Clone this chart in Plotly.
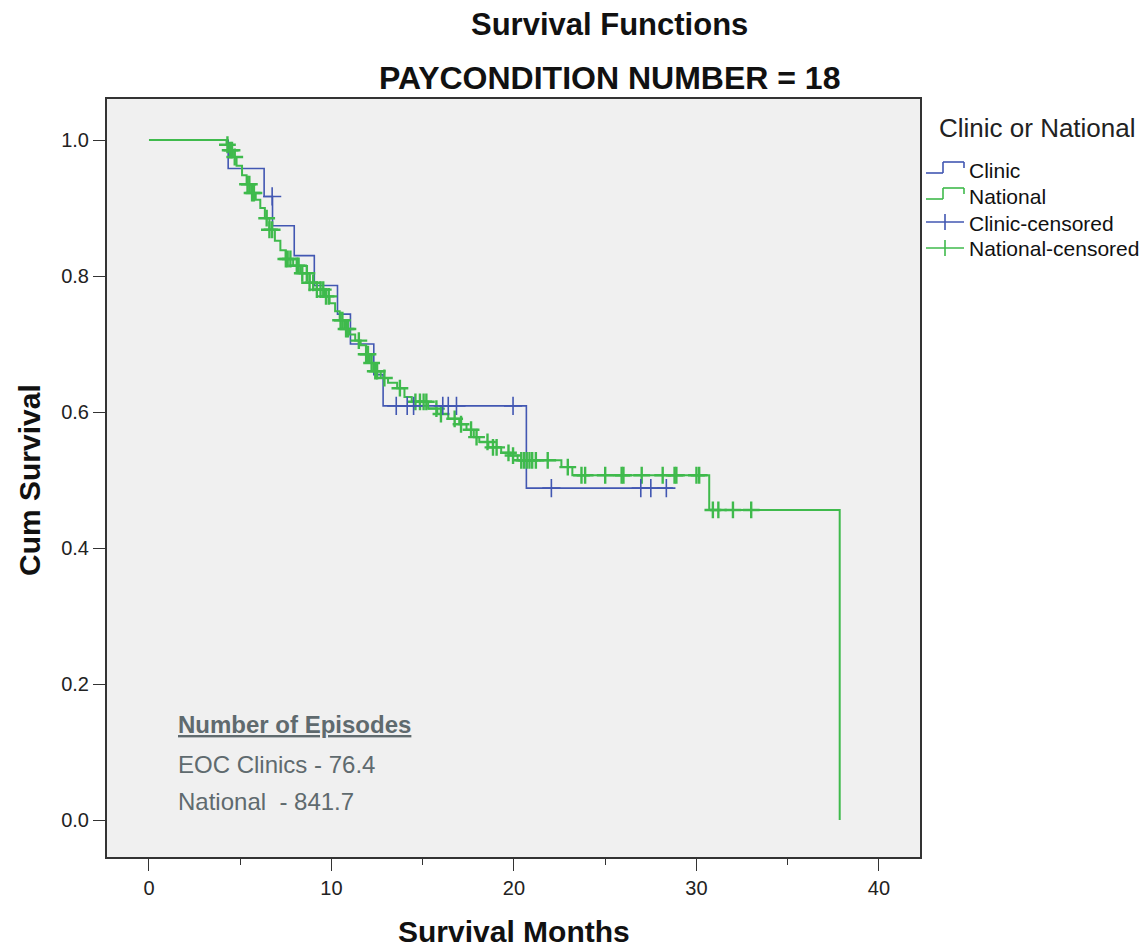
import numpy as np
import plotly.graph_objects as go

# ---------------- data ----------------
clinic_t = [0, 4.34, 6.31, 6.77, 7.96, 9.06, 10.33, 11.04, 12.32, 12.83, 20.68]
clinic_s = [1.0, 0.958, 0.917, 0.874, 0.830, 0.786, 0.744, 0.700, 0.655, 0.609, 0.488]
clinic_last = 28.71
clinic_cens = [6.75, 13.55, 14.15, 14.5, 16.1, 16.4, 16.85, 19.95, 22.05, 26.95, 27.5, 28.35]

nat_t = [0, 4.25, 4.4, 4.6, 4.8, 5.1, 5.35, 5.6, 5.85, 6.1, 6.35, 6.6, 6.9, 7.2, 7.5,
         7.9, 8.3, 8.8, 9.2, 9.6, 9.9, 10.2, 10.45, 10.7, 11.0, 11.3, 11.6, 11.9, 12.1,
         12.3, 12.7, 13.1, 13.6, 14.0, 14.4, 15.3, 15.8, 16.4, 17.0, 17.4, 17.8, 18.1,
         18.6, 19.3, 19.8, 20.2, 22.6, 23.2, 30.7, 37.85]
nat_s = [1.0, 0.993, 0.985, 0.975, 0.962, 0.948, 0.935, 0.922, 0.912, 0.900, 0.885,
         0.868, 0.852, 0.838, 0.825, 0.815, 0.804, 0.790, 0.780, 0.770, 0.760, 0.748,
         0.735, 0.722, 0.714, 0.705, 0.698, 0.685, 0.672, 0.660, 0.650, 0.643, 0.635,
         0.622, 0.615, 0.605, 0.597, 0.590, 0.582, 0.574, 0.563, 0.556, 0.548, 0.540,
         0.536, 0.529, 0.519, 0.507, 0.456, 0.0]
nat_cens = [4.3, 4.45, 4.55, 4.7, 5.4, 5.5, 5.65, 5.75, 6.45, 6.6, 6.75, 7.5, 7.6, 7.75,
            8.1, 8.2, 8.4, 8.65, 8.8, 9.0, 9.2, 9.4, 9.55, 9.7, 9.85, 10.5, 10.6, 10.8,
            10.9, 11.5, 11.9, 12.0, 12.2, 12.4, 12.5, 12.9, 13.75, 14.6, 14.85, 15.05,
            15.2, 15.75, 16.0, 16.75, 17.1, 17.65, 17.95, 18.55, 18.85, 19.05, 19.7,
            19.95, 20.4, 20.55, 20.7, 20.85, 21.0, 21.2, 21.85, 22.95, 23.7, 23.9, 25.0,
            25.9, 26.0, 27.0, 28.15, 28.8, 28.9, 30.0, 30.15, 30.9, 31.2, 32.0, 33.0]

x_ticks = [0, 10, 20, 30, 40]
y_ticks = [0.0, 0.2, 0.4, 0.6, 0.8, 1.0]
y_tick_labels = ["0.0", "0.2", "0.4", "0.6", "0.8", "1.0"]

episodes_title = "Number of Episodes"
episodes_lines = ["EOC Clinics - 76.4", "National  - 841.7"]
legend_title = "Clinic or National"
legend_items = ["Clinic", "National", "Clinic-censored", "National-censored"]

# ---------------- styling ----------------
BLUE = "#4257b2"
GREEN = "#3fba4c"
FONT = "Liberation Sans, Arial, sans-serif"
W, H = 1148, 947
L, R, T, B = 107, 920, 99, 857


def surv_at(times, svals, q):
    idx = np.searchsorted(np.array(times), np.array(q), side="right") - 1
    return list(np.array(svals)[idx])


def px(xp):
    return (xp - L) / (R - L)


def py(yp):
    return (B - yp) / (B - T)


fig = go.Figure()

fig.add_trace(go.Scatter(
    x=clinic_t + [clinic_last], y=clinic_s + [clinic_s[-1]],
    mode="lines", line=dict(shape="hv", color=BLUE, width=1.6),
    showlegend=False, hoverinfo="skip"))

fig.add_trace(go.Scatter(
    x=nat_t, y=nat_s,
    mode="lines", line=dict(shape="hv", color=GREEN, width=2),
    showlegend=False, hoverinfo="skip"))

fig.add_trace(go.Scatter(
    x=nat_cens, y=surv_at(nat_t, nat_s, nat_cens),
    mode="markers",
    marker=dict(symbol="cross-thin-open", size=12, color=GREEN, line=dict(color=GREEN, width=2.4)),
    showlegend=False, hoverinfo="skip"))

fig.add_trace(go.Scatter(
    x=clinic_cens, y=surv_at(clinic_t, clinic_s, clinic_cens),
    mode="markers",
    marker=dict(symbol="cross-thin-open", size=13, color=BLUE, line=dict(color=BLUE, width=1.6)),
    showlegend=False, hoverinfo="skip"))

ann = []
ann.append(dict(text="<b>Survival Functions</b>", x=px(609), y=py(24), xref="paper", yref="paper",
                showarrow=False, font=dict(family=FONT, size=31, color="#111"),
                xanchor="center", yanchor="middle"))
ann.append(dict(text="<b>PAYCONDITION NUMBER = 18</b>", x=px(609), y=py(78), xref="paper", yref="paper",
                showarrow=False, font=dict(family=FONT, size=32, color="#111"),
                xanchor="center", yanchor="middle"))
ann.append(dict(text="<b>Cum Survival</b>", x=px(30), y=py(480), xref="paper", yref="paper",
                showarrow=False, textangle=-90, font=dict(family=FONT, size=30, color="#111"),
                xanchor="center", yanchor="middle"))
ann.append(dict(text="<b>Survival Months</b>", x=px(514), y=py(931), xref="paper", yref="paper",
                showarrow=False, font=dict(family=FONT, size=30, color="#111"),
                xanchor="center", yanchor="middle"))

ann.append(dict(text=legend_title, x=px(937), y=py(128), xref="paper", yref="paper",
                showarrow=False, font=dict(family=FONT, size=26, color="#222"),
                xanchor="left", yanchor="middle"))
leg_y = [170, 196, 223, 248]
for name, yy in zip(legend_items, leg_y):
    ann.append(dict(text=name, x=px(967), y=py(yy), xref="paper", yref="paper",
                    showarrow=False, font=dict(family=FONT, size=21, color="#111"),
                    xanchor="left", yanchor="middle"))

ann.append(dict(text="<b><u>" + episodes_title + "</u></b>", x=px(176), y=py(724), xref="paper",
                yref="paper", showarrow=False, font=dict(family=FONT, size=24, color="#5f6a6e"),
                xanchor="left", yanchor="middle"))
for txt, yy in zip(episodes_lines, [764, 801]):
    ann.append(dict(text=txt, x=px(176), y=py(yy), xref="paper", yref="paper",
                    showarrow=False, font=dict(family=FONT, size=24, color="#5f6a6e"),
                    xanchor="left", yanchor="middle"))

shapes = []
for yy, col in [(173, BLUE), (199, GREEN)]:
    pts = [(926, yy), (943, yy), (943, yy - 11), (964, yy - 11), (964, yy - 5)]
    for (xa, ya), (xb, yb) in zip(pts[:-1], pts[1:]):
        shapes.append(dict(type="line", xref="paper", yref="paper",
                           x0=px(xa), y0=py(ya), x1=px(xb), y1=py(yb),
                           line=dict(color=col, width=1.6)))
for yy, col in [(222, BLUE), (248, GREEN)]:
    shapes.append(dict(type="line", xref="paper", yref="paper",
                       x0=px(926), y0=py(yy), x1=px(964), y1=py(yy),
                       line=dict(color=col, width=1.6)))
    shapes.append(dict(type="line", xref="paper", yref="paper",
                       x0=px(945), y0=py(yy - 8), x1=px(945), y1=py(yy + 8),
                       line=dict(color=col, width=1.6)))

fig.update_layout(
    width=W, height=H,
    margin=dict(l=L, r=W - R, t=T, b=H - B),
    paper_bgcolor="white", plot_bgcolor="#f0f0f0",
    showlegend=False,
    annotations=ann, shapes=shapes,
    font=dict(family=FONT, color="#222"),
)
fig.update_xaxes(
    range=[-2.30, 42.25], tickvals=x_ticks, ticktext=[str(v) for v in x_ticks],
    ticks="outside", ticklen=12, tickwidth=1.3, tickcolor="#333",
    minor=dict(dtick=5, tick0=0, ticks="outside", ticklen=6, tickwidth=1.3, tickcolor="#333"),
    showgrid=False, zeroline=False,
    showline=True, mirror=True, linecolor="#333", linewidth=2,
    tickfont=dict(family=FONT, size=20, color="#222"),
)
fig.update_yaxes(
    range=[-0.0544, 1.0603], tickvals=y_ticks, ticktext=y_tick_labels,
    ticks="outside", ticklen=12, tickwidth=1.3, tickcolor="#333",
    showgrid=False, zeroline=False,
    showline=True, mirror=True, linecolor="#333", linewidth=2,
    tickfont=dict(family=FONT, size=20, color="#222"),
)

fig.write_html("out.html")
